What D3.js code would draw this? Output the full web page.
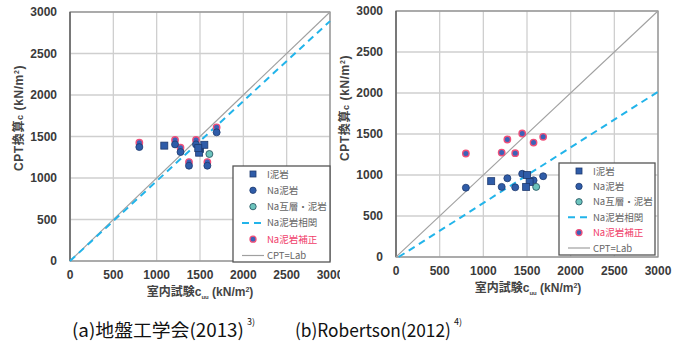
<!DOCTYPE html>
<html>
<head>
<meta charset="utf-8">
<script src="https://d3js.org/d3.v7.min.js"></script>
<style>
body{margin:0;background:#fff;}
svg{font-family:Arial,"Liberation Sans","Noto Sans CJK JP",sans-serif;}
</style>
</head>
<body>
<script>
// axis ticks
var ticks = [0, 500, 1000, 1500, 2000, 2500, 3000];
var legendLabels = ["I泥岩", "Na泥岩", "Na互層・泥岩", "Na泥岩相関", "Na泥岩補正", "CPT=Lab"];

// (a) 地盤工学会(2013)
var aIx = [1088, 1500, 1550, 1490, 1480];
var aIy = [1390, 1350, 1400, 1305, 1360];
var aNax = [800, 1212, 1275, 1373, 1454, 1585, 1692];
var aNay = [1373, 1405, 1313, 1148, 1405, 1148, 1550];
var aCory = [1426, 1458, 1365, 1192, 1458, 1192, 1611];
var aMixx = [1608];
var aMixy = [1289];
var aFit = [[0, 0], [3000, 2890]];

// (b) Robertson(2012)
var bIx = [1090, 1500, 1530, 1490];
var bIy = [925, 1000, 915, 855];
var bNax = [800, 1210, 1275, 1365, 1445, 1575, 1685];
var bNay = [845, 855, 960, 850, 1015, 935, 985];
var bCory = [1262, 1274, 1433, 1266, 1506, 1396, 1465];
var bMixx = [1605];
var bMixy = [855];
var bFit = [[30, 0], [3000, 2015]];

var svg = d3.select("body").append("svg")
    .attr("width", 683).attr("height", 352);

svg.append("defs").append("clipPath").attr("id", "clipA")
  .append("rect").attr("x", 0).attr("y", 0).attr("width", 340).attr("height", 300);

function drawPanel(g, o) {
  var x = d3.scaleLinear().domain([0, 3000]).range([o.left, o.right]);
  var y = d3.scaleLinear().domain([0, 3000]).range([o.bottom, o.top]);

  // grid
  g.selectAll(".gx").data(ticks).enter().append("line")
    .attr("x1", function(d){return x(d);}).attr("x2", function(d){return x(d);})
    .attr("y1", o.top).attr("y2", o.bottom)
    .attr("stroke", "#cfcfcf").attr("stroke-width", 1.3);
  g.selectAll(".gy").data(ticks).enter().append("line")
    .attr("y1", function(d){return y(d);}).attr("y2", function(d){return y(d);})
    .attr("x1", o.left).attr("x2", o.right)
    .attr("stroke", "#cfcfcf").attr("stroke-width", 1.3);
  g.append("rect").attr("x", o.left).attr("y", o.top)
    .attr("width", o.right - o.left).attr("height", o.bottom - o.top)
    .attr("fill", "none").attr("stroke", "#8a8a8a").attr("stroke-width", 1.2);
  g.append("line").attr("x1", o.left).attr("x2", o.left).attr("y1", o.top).attr("y2", o.bottom)
    .attr("stroke", "#555").attr("stroke-width", 1.2);

  // tick labels
  g.selectAll(".tx").data(ticks).enter().append("text")
    .attr("x", function(d){return x(d);}).attr("y", o.bottom + 18)
    .attr("text-anchor", "middle").attr("font-size", 12).attr("font-weight", "bold")
    .attr("fill", "#3a3a3a").text(function(d){return d;});
  g.selectAll(".ty").data(ticks).enter().append("text")
    .attr("x", o.left - 13).attr("y", function(d){return y(d) + 4;})
    .attr("text-anchor", "end").attr("font-size", 12).attr("font-weight", "bold")
    .attr("fill", "#3a3a3a").text(function(d){return d;});

  // axis titles
  var xt = g.append("text").attr("x", o.xTitleX).attr("y", o.bottom + 35)
    .attr("text-anchor", "middle").attr("font-size", 12).attr("font-weight", "bold").attr("fill", "#444");
  xt.append("tspan").text("室内試験c");
  xt.append("tspan").attr("font-size", 6).attr("dy", 3).text("uu");
  xt.append("tspan").attr("dy", -3).text(" (kN/m");
  xt.append("tspan").attr("font-size", 7).attr("dy", -4).text("2");
  xt.append("tspan").attr("dy", 4).text(")");

  var yt = g.append("text").attr("transform", "translate(" + o.yTitleX + "," + o.yTitleY + ") rotate(-90)")
    .attr("text-anchor", "middle").attr("font-size", 12).attr("font-weight", "bold").attr("fill", "#444")
    .attr("letter-spacing", 0.6);
  yt.append("tspan").text("CPT換算");
  yt.append("tspan").attr("font-size", 9).text("c");
  yt.append("tspan").text(" (kN/m");
  yt.append("tspan").attr("font-size", 7).attr("dy", -4).text("2");
  yt.append("tspan").attr("dy", 4).text(")");

  // lines
  var line = d3.line().x(function(d){return x(d[0]);}).y(function(d){return y(d[1]);});
  g.append("path").attr("d", line([[0, 0], [3000, 3000]]))
    .attr("stroke", "#a0a0a0").attr("stroke-width", 1.1).attr("fill", "none");
  g.append("path").attr("d", line(o.fit))
    .attr("stroke", "#22b4ea").attr("stroke-width", 2).attr("stroke-dasharray", "7,5").attr("fill", "none");

  // corrected (drawn first, behind)
  g.selectAll(".cor").data(o.nax).enter().append("circle")
    .attr("cx", function(d){return x(d);}).attr("cy", function(d, i){return y(o.cory[i]);})
    .attr("r", 3.2).attr("fill", "#3b62b8").attr("stroke", "#f0507a").attr("stroke-width", 1.4);
  g.selectAll(".na").data(o.nax).enter().append("circle")
    .attr("cx", function(d){return x(d);}).attr("cy", function(d, i){return y(o.nay[i]);})
    .attr("r", 3.5).attr("fill", "#2f5ca8").attr("stroke", "#1e3a6e").attr("stroke-width", 0.8);
  g.selectAll(".mix").data(o.mixx).enter().append("circle")
    .attr("cx", function(d){return x(d);}).attr("cy", function(d, i){return y(o.mixy[i]);})
    .attr("r", 3.5).attr("fill", "#6cc4bd").attr("stroke", "#2e5a66").attr("stroke-width", 0.9);
  g.selectAll(".sq").data(o.ix).enter().append("rect")
    .attr("x", function(d){return x(d) - 3.5;}).attr("y", function(d, i){return y(o.iy[i]) - 3.5;})
    .attr("width", 7).attr("height", 7)
    .attr("fill", "#2f5ca8").attr("stroke", "#1e3a6e").attr("stroke-width", 0.8);

  // legend
  var lg = g.append("g").attr("transform", "translate(" + o.legX + "," + o.legY + ")");
  lg.append("rect").attr("width", o.legW).attr("height", o.legH)
    .attr("fill", "#fff").attr("stroke", "#555").attr("stroke-width", 1.3);
  legendLabels.forEach(function(t, i) {
    var cy = 8 + i * o.legStep;
    var s = 20;
    if (i === 0) lg.append("rect").attr("x", s - 3).attr("y", cy - 3).attr("width", 6).attr("height", 6)
      .attr("fill", "#2f5ca8").attr("stroke", "#1e3a6e").attr("stroke-width", 0.8);
    if (i === 1) lg.append("circle").attr("cx", s).attr("cy", cy).attr("r", 3.2)
      .attr("fill", "#2f5ca8").attr("stroke", "#1e3a6e").attr("stroke-width", 0.8);
    if (i === 2) lg.append("circle").attr("cx", s).attr("cy", cy).attr("r", 3.2)
      .attr("fill", "#6cc4bd").attr("stroke", "#2e5a66").attr("stroke-width", 0.9);
    if (i === 3) lg.append("line").attr("x1", 9).attr("x2", 31).attr("y1", cy).attr("y2", cy)
      .attr("stroke", "#22b4ea").attr("stroke-width", 2).attr("stroke-dasharray", "7,5");
    if (i === 4) lg.append("circle").attr("cx", s).attr("cy", cy).attr("r", 3)
      .attr("fill", "#3b62b8").attr("stroke", "#f0507a").attr("stroke-width", 1.3);
    if (i === 5) lg.append("line").attr("x1", 9).attr("x2", 31).attr("y1", cy).attr("y2", cy)
      .attr("stroke", "#a0a0a0").attr("stroke-width", 1.2);
    lg.append("text").attr("x", 34).attr("y", cy + 3.5).attr("font-size", 9.5)
      .attr("fill", i === 4 ? "#f0406a" : "#666")
      .attr("font-family", "'Noto Sans CJK JP',sans-serif").text(t);
  });
}

drawPanel(svg.append("g").attr("clip-path", "url(#clipA)"), {
  left: 70, right: 330, top: 12, bottom: 261,
  xTitleX: 200, yTitleX: 23, yTitleY: 118,
  ix: aIx, iy: aIy, nax: aNax, nay: aNay, cory: aCory, mixx: aMixx, mixy: aMixy, fit: aFit,
  legX: 233, legY: 166, legW: 97, legH: 96, legStep: 16.3
});

drawPanel(svg.append("g"), {
  left: 396, right: 658, top: 11, bottom: 257,
  xTitleX: 528, yTitleX: 349, yTitleY: 108,
  ix: bIx, iy: bIy, nax: bNax, nay: bNay, cory: bCory, mixx: bMixx, mixy: bMixy, fit: bFit,
  legX: 559, legY: 163, legW: 96, legH: 92, legStep: 15.4
});

// captions: horizontally condensed to the reference width
function caption(xp, main, sup, len) {
  var t = svg.append("text")
    .attr("font-family", "'Noto Sans CJK JP',sans-serif").attr("font-size", 18).attr("fill", "#111")
    .text(main);
  var w = t.node().getComputedTextLength();
  t.attr("transform", "translate(" + xp + ",337) scale(" + (len / w) + ",1)");
  svg.append("text").attr("x", xp + len + 3).attr("y", 325)
    .attr("font-family", "'Noto Sans CJK JP',sans-serif").attr("font-size", 9).attr("fill", "#111")
    .text(sup);
}
caption(72, "(a)地盤工学会(2013)", "3)", 172);
caption(295, "(b)Robertson(2012)", "4)", 156);
</script>
</body>
</html>
